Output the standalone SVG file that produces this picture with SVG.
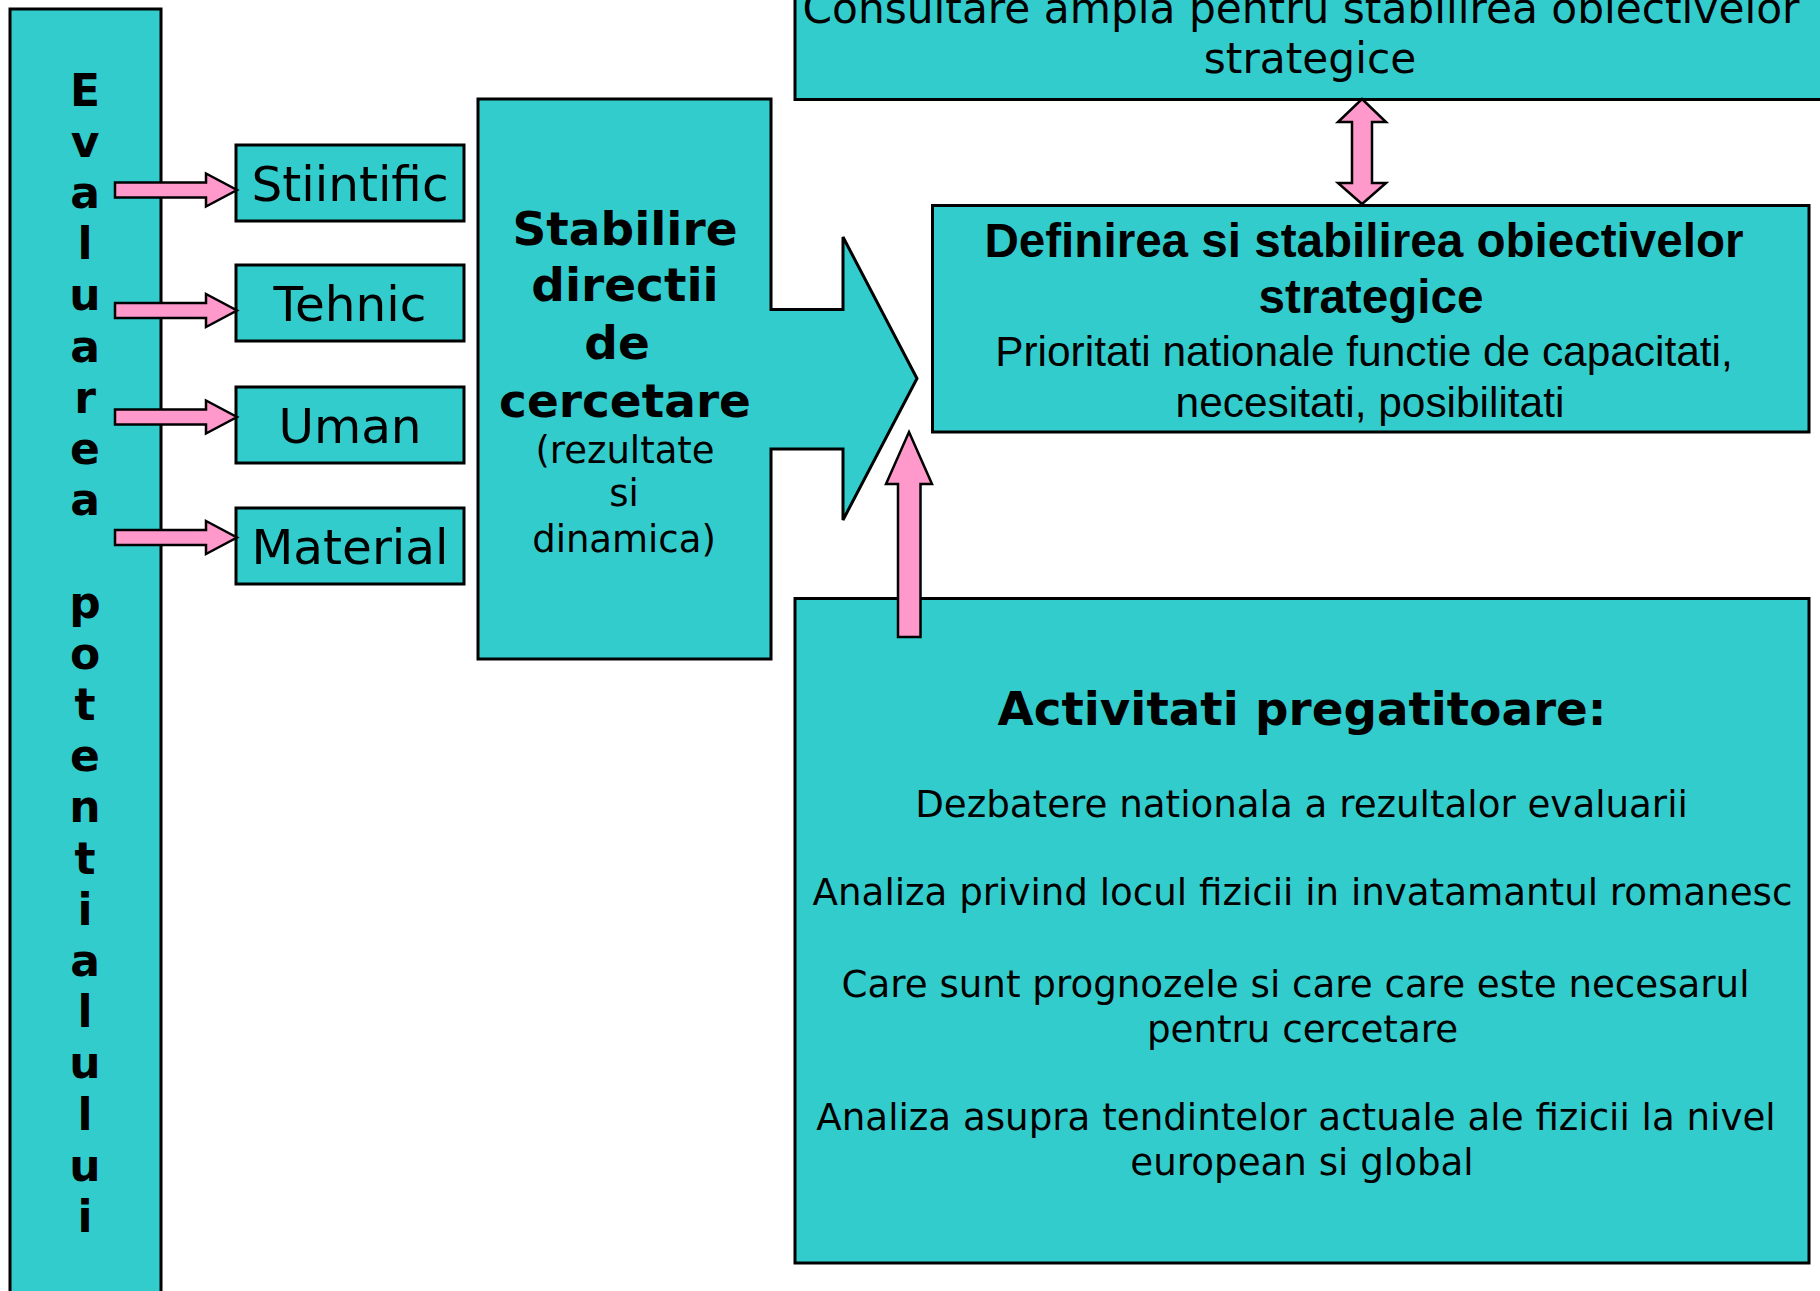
<svg xmlns="http://www.w3.org/2000/svg" width="1820" height="1291" viewBox="0 0 1820 1291">
<style>
.box{fill:#33CCCC;stroke:#000;stroke-width:3}
.pink{fill:#FF99CC;stroke:#000;stroke-width:2.5;stroke-linejoin:miter}
.v{font-family:"DejaVu Sans",Verdana,sans-serif;fill:#000}
.a{font-family:"Liberation Sans",Arial,sans-serif;fill:#000}
.b{font-weight:bold}
.m{text-anchor:middle}
</style>
<defs>
<path id="rarrow" d="M0,-7.5 H91 V-16.5 L122,0 L91,16.5 V7.5 H0 Z"/>
</defs>
<rect width="1820" height="1291" fill="#fff"/>

<g id="evaluarea">
<rect class="box" x="10" y="9" width="151" height="1300"/>
<text class="v b m" font-size="44"><tspan x="85" y="105.6">E</tspan><tspan x="85" y="156.8">v</tspan><tspan x="85" y="208">a</tspan><tspan x="85" y="259.2">l</tspan><tspan x="85" y="310.4">u</tspan><tspan x="85" y="361.6">a</tspan><tspan x="85" y="412.8">r</tspan><tspan x="85" y="464">e</tspan><tspan x="85" y="515.2">a</tspan><tspan x="85" y="617.6">p</tspan><tspan x="85" y="668.8">o</tspan><tspan x="85" y="720">t</tspan><tspan x="85" y="771.2">e</tspan><tspan x="85" y="822.4">n</tspan><tspan x="85" y="873.6">t</tspan><tspan x="85" y="924.8">i</tspan><tspan x="85" y="976">a</tspan><tspan x="85" y="1027.2">l</tspan><tspan x="85" y="1078.4">u</tspan><tspan x="85" y="1129.6">l</tspan><tspan x="85" y="1180.8">u</tspan><tspan x="85" y="1232">i</tspan></text>
</g>

<g id="stiintific">
<rect class="box" x="236" y="145" width="228" height="76"/>
<text class="v m" font-size="48.5" x="350" y="201">Stiintific</text>
</g>
<g id="tehnic">
<rect class="box" x="236" y="265" width="228" height="76"/>
<text class="v m" font-size="48.5" x="350" y="321">Tehnic</text>
</g>
<g id="uman">
<rect class="box" x="236" y="387" width="228" height="76"/>
<text class="v m" font-size="48.5" x="350" y="443">Uman</text>
</g>
<g id="material">
<rect class="box" x="236" y="508" width="228" height="76"/>
<text class="v m" font-size="48.5" x="350" y="564">Material</text>
</g>

<g id="stabilire">
<path class="box" d="M478,99 H771 V309.5 H843 V237 L917,378.5 L843,520 V449 H771 V659 H478 Z"/>
<text class="v b m" font-size="47"><tspan x="625" y="245">Stabilire</tspan><tspan x="625" y="301">directii</tspan><tspan x="617" y="358.5">de</tspan><tspan x="625" y="416.5">cercetare</tspan></text>
<text class="v m" font-size="37"><tspan x="625" y="462.5">(rezultate</tspan><tspan x="624" y="505.5">si</tspan><tspan x="624" y="551.5">dinamica)</tspan></text>
</g>

<g id="consultare">
<rect class="box" x="795" y="-10" width="1040" height="109.5"/>
<text class="v m" font-size="42.3"><tspan x="1301" y="23">Consultare ampla pentru stabilirea obiectivelor</tspan><tspan x="1310" y="72.5">strategice</tspan></text>
</g>

<g id="definirea">
<rect class="box" x="932.5" y="205.5" width="876.5" height="226.5"/>
<text class="a b m" font-size="47.6"><tspan x="1364" y="256.5">Definirea si stabilirea obiectivelor</tspan><tspan x="1371" y="313">strategice</tspan></text>
<text class="a m" font-size="42.4"><tspan x="1364" y="365.5">Prioritati nationale functie de capacitati,</tspan><tspan x="1370" y="416.5">necesitati, posibilitati</tspan></text>
</g>

<g id="activitati">
<rect class="box" x="795" y="598.5" width="1014" height="664.5"/>
<text class="v b m" font-size="46.8" x="1302" y="725">Activitati pregatitoare:</text>
<text class="v m" font-size="37.2"><tspan x="1301.5" y="816.5">Dezbatere nationala a rezultalor evaluarii</tspan><tspan x="1302.5" y="905">Analiza privind locul fizicii in invatamantul romanesc</tspan><tspan x="1295.5" y="996.5">Care sunt prognozele si care care este necesarul</tspan><tspan x="1302.5" y="1041.5">pentru cercetare</tspan><tspan x="1296" y="1130">Analiza asupra tendintelor actuale ale fizicii la nivel</tspan><tspan x="1302" y="1175">european si global</tspan></text>
</g>

<g id="connectors">
<use href="#rarrow" class="pink" transform="translate(115,190)"/>
<use href="#rarrow" class="pink" transform="translate(115,310.5)"/>
<use href="#rarrow" class="pink" transform="translate(115,417)"/>
<use href="#rarrow" class="pink" transform="translate(115,537.5)"/>
<path class="pink" d="M1362,99 L1386,122 H1372 V183 H1386 L1362,204 L1338,183 H1352 V122 H1338 Z"/>
<path class="pink" d="M909,432 L932,484 H920.5 V637 H898 V484 H886 Z"/>
</g>
</svg>
